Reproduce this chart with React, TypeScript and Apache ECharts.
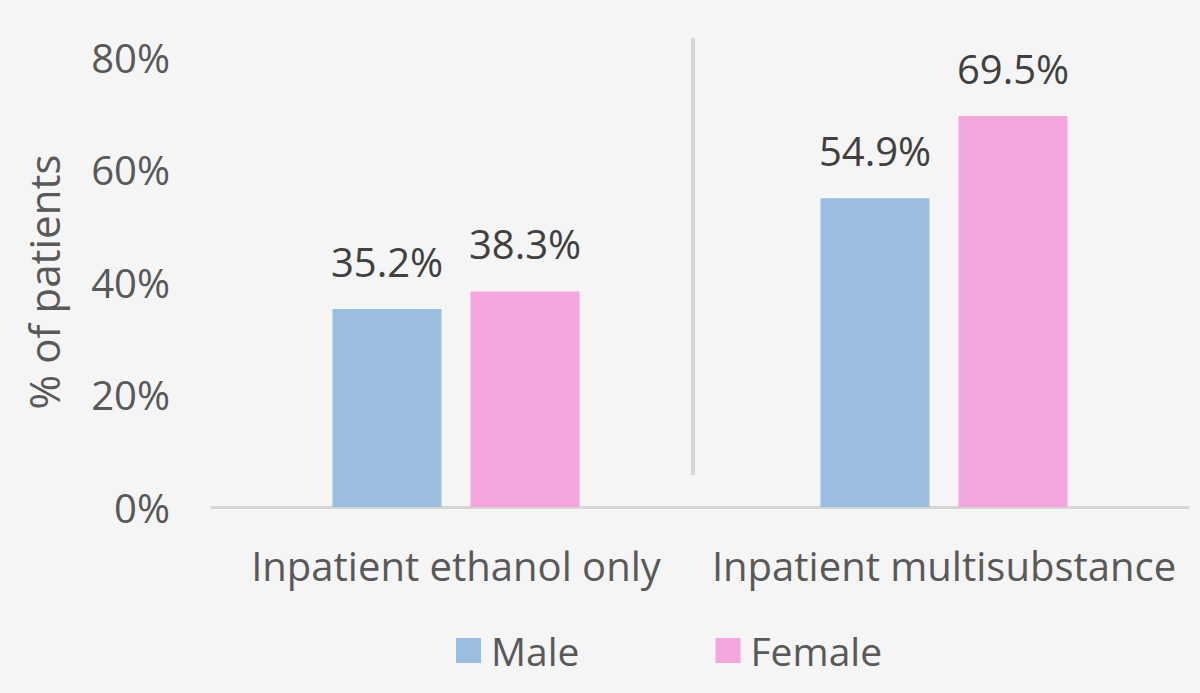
import React, { useEffect, useRef } from "react";
import * as echarts from "echarts";

const categories = ["Inpatient ethanol only", "Inpatient multisubstance"];
const maleValues = [35.2, 54.9];
const femaleValues = [38.3, 69.5];
const seriesNames = ["Male", "Female"];
const yTicks = [0, 20, 40, 60, 80];

const FONT = "'Open Sans', 'Noto Sans', sans-serif";
const TXT = "#595959";

export default function App() {
  const ref = useRef<HTMLDivElement>(null);
  useEffect(() => {
    if (!ref.current) return;
    const chart = echarts.init(ref.current, undefined, { renderer: "svg" });
    const label = {
      show: true,
      position: "top",
      distance: 28,
      color: "#404040",
      fontFamily: FONT,
      fontSize: 40,
      formatter: (p: any) => p.value.toFixed(1) + "%",
    };
    chart.setOption({
      animation: false,
      backgroundColor: "#f4f5f4",
      textStyle: { fontFamily: FONT },
      grid: { left: 212, right: 12, top: 57, bottom: 186, containLabel: false },
      legend: {
        data: seriesNames,
        bottom: 18,
        left: 451,
        icon: "rect",
        itemWidth: 25,
        itemHeight: 25,
        itemGap: 136,
        textStyle: { color: TXT, fontSize: 39, fontFamily: FONT, padding: [0, 0, 0, 5] },
      },
      xAxis: {
        type: "category",
        data: categories,
        axisLine: { lineStyle: { color: "#d6d6d6", width: 3 } },
        axisTick: { show: false },
        axisLabel: { color: TXT, fontSize: 40, fontFamily: FONT, margin: 38, interval: 0 },
      },
      yAxis: {
        type: "value",
        min: yTicks[0],
        max: yTicks[yTicks.length - 1],
        interval: 20,
        name: "% of patients",
        nameLocation: "middle",
        nameGap: 148,
        nameRotate: 90,
        nameTextStyle: { color: TXT, fontSize: 42, fontFamily: FONT },
        axisLine: { show: false },
        axisTick: { show: false },
        splitLine: { show: false },
        axisLabel: { color: TXT, fontSize: 40, fontFamily: FONT, margin: 42, formatter: "{value}%" },
      },
      series: [
        {
          name: seriesNames[0],
          type: "bar",
          data: maleValues,
          barWidth: 109,
          barGap: "26.6%",
          itemStyle: { color: "#9abde0" },
          label,
        },
        {
          name: seriesNames[1],
          type: "bar",
          data: femaleValues,
          barWidth: 109,
          itemStyle: { color: "#f5a6dc" },
          label,
        },
      ],
      graphic: [
        {
          type: "line",
          shape: { x1: 693, y1: 38, x2: 693, y2: 475 },
          style: { stroke: "#d6d6d6", lineWidth: 4 },
        },
      ],
    });
    return () => chart.dispose();
  }, []);
  return <div ref={ref} style={{ width: 1200, height: 693, position: "fixed", left: 0, top: 0 }} />;
}
